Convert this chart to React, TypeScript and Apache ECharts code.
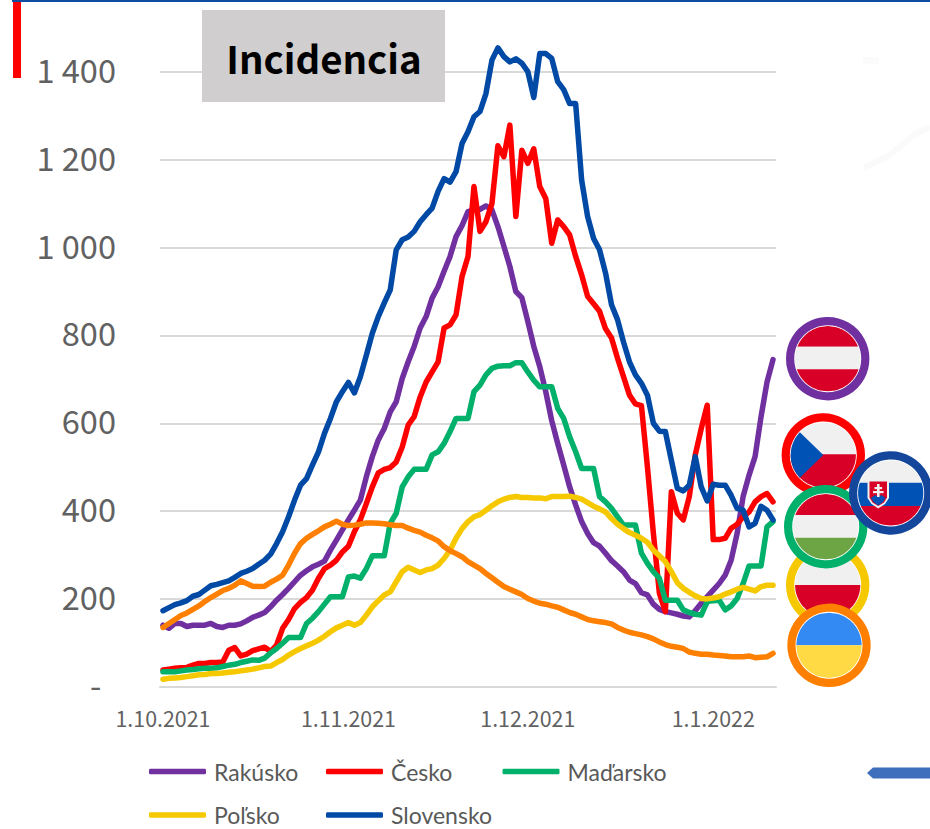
import React, { useEffect, useRef } from "react";
import * as echarts from "echarts";

const START = Date.UTC(2021, 9, 1);
const categories: string[] = [];
for (let i = 0; i < 103; i++) {
  const d = new Date(START + i * 86400000);
  categories.push(`${d.getUTCDate()}.${d.getUTCMonth() + 1}.${d.getUTCFullYear()}`);
}
const shownDates = ["1.10.2021", "1.11.2021", "1.12.2021", "1.1.2022"];

const rakusko = [140,133,144,144,137,140,140,140,144,137,135,140,140,143,150,158,163,169,182,197,210,224,239,254,264,273,279,286,311,334,357,380,402,425,478,524,562,588,626,649,702,740,775,817,843,885,911,946,980,1025,1050,1082,1086,1087,1095,1086,1048,1003,957,900,886,832,775,729,672,606,554,505,455,414,376,349,328,320,304,287,275,262,243,235,214,209,188,176,171,168,165,161,159,173,190,205,220,235,254,288,349,433,482,524,615,694,745];
const cesko = [38,40,42,43,44,49,53,53,55,55,56,83,89,70,74,82,86,90,80,95,133,153,178,192,203,220,247,269,277,288,307,320,353,380,417,455,487,495,499,512,546,596,615,660,694,717,740,817,824,847,934,980,1139,1037,1059,1100,1232,1207,1279,1071,1222,1192,1225,1139,1112,1010,1063,1048,1029,980,938,889,872,855,815,794,748,706,664,644,640,501,349,213,171,444,395,380,433,528,588,641,335,335,338,361,370,387,398,421,433,440,421];
const madarsko = [34,34,34,36,38,39,41,42,42,43,46,49,51,55,58,61,60,65,77,87,99,112,112,112,144,156,171,188,205,205,205,250,252,247,269,298,298,298,372,395,455,478,495,495,495,528,535,554,581,611,611,611,672,687,710,725,730,731,731,738,738,717,698,683,683,683,634,611,569,535,497,497,497,433,421,406,387,368,368,368,304,281,262,247,197,197,197,175,169,165,163,194,196,197,175,184,201,235,275,275,275,364,376];
const polsko = [17,19,20,21,23,25,27,28,30,30,31,33,34,36,38,40,43,46,47,55,62,72,80,87,93,99,106,115,125,134,140,146,140,146,163,182,196,209,216,239,262,272,266,260,266,269,277,292,311,338,360,376,387,392,402,412,421,427,431,433,431,431,430,430,428,433,433,433,434,431,427,419,411,405,398,383,370,360,351,345,338,329,311,298,285,262,237,224,215,207,201,200,202,205,211,216,222,226,222,218,228,231,231];
const slovensko = [173,180,187,191,196,206,210,220,230,233,237,241,249,258,263,269,279,288,302,326,353,387,425,459,474,505,535,577,611,649,672,693,669,706,755,805,843,874,904,995,1018,1024,1037,1059,1075,1090,1128,1157,1149,1173,1237,1264,1298,1310,1351,1427,1455,1435,1423,1430,1420,1401,1342,1442,1442,1431,1378,1360,1328,1328,1154,1071,1021,995,942,870,836,785,740,710,691,664,600,582,581,516,452,446,459,524,455,423,461,459,459,436,406,402,364,372,411,402,380];
const ukrajina = [135,144,153,162,168,176,184,194,203,211,219,224,231,241,235,229,228,229,238,245,254,277,304,326,338,347,355,364,370,377,370,367,368,370,373,373,372,371,369,367,367,361,356,352,345,339,332,319,310,303,296,285,277,269,258,248,238,228,222,216,210,201,195,190,188,184,181,175,169,165,159,153,150,148,146,143,135,129,124,121,118,114,109,102,96,92,90,87,79,76,74,74,72,71,70,68,68,68,70,66,67,68,76];

const FONT = '"Noto Sans CJK JP", "Noto Sans", sans-serif';
const LEGEND_FONT = 'Lato, "Noto Sans", sans-serif';
const GREY = "#616161";
const PURPLE = "#7030a0";
const RED = "#ff0000";
const GREEN = "#00b06b";
const YELLOW = "#f5c800";
const BLUE = "#0049a5";
const ORANGE = "#ff8000";

const band = (cx: number, cy: number, r: number, y0: number, y1: number, fill: string) => {
  const points: number[][] = [];
  const a = Math.max(y0, cy - r);
  const b = Math.min(y1, cy + r);
  const half = (y: number) => Math.sqrt(Math.max(0, r * r - (y - cy) * (y - cy)));
  for (let k = 0; k <= 24; k++) {
    const y = a + ((b - a) * k) / 24;
    points.push([cx - half(y), y]);
  }
  for (let k = 24; k >= 0; k--) {
    const y = a + ((b - a) * k) / 24;
    points.push([cx + half(y), y]);
  }
  return { type: "polygon", z: 10, shape: { points }, style: { fill } };
};

const ring = (cx: number, cy: number, color: string) => ({
  type: "circle",
  z: 10,
  shape: { cx, cy, r: 37.6 },
  style: { fill: "#ffffff", stroke: color, lineWidth: 8.2 },
});

const FLAG_R = 32.6;
const flagOf = (cx: number, cy: number, color: string, bands: [number, number, string][]) => [
  ring(cx, cy, color),
  ...bands.map(([a, b, f]) => band(cx, cy, FLAG_R, a, b, f)),
];

const wedge = (cx: number, cy: number, r: number, fill: string) => {
  const points: number[][] = [[cx, cy]];
  for (let k = 0; k <= 20; k++) {
    const ang = ((136 + (88 * k) / 20) * Math.PI) / 180;
    points.push([cx + r * Math.cos(ang), cy + r * Math.sin(ang)]);
  }
  return { type: "polygon", z: 10, shape: { points }, style: { fill } };
};

const FR = "#d80027";
const FW = "#f0f0f0";

const flags: any[] = [
  ...flagOf(827.7, 358.7, PURPLE, [[300, 346.7, FR], [346.7, 369.3, FW], [369.3, 420, FR]]),
  ...flagOf(823.3, 455, RED, [[400, 454.3, FW], [454.3, 500, FR]]),
  wedge(823.3, 455, FLAG_R, "#0052b4"),
  ...flagOf(827.7, 585, YELLOW, [[540, 585, FW], [585, 640, FR]]),
  ...flagOf(825.7, 526.7, GREEN, [[480, 515, FR], [515, 537.7, FW], [537.7, 570, "#6da544"]]),
  ...flagOf(829, 645.3, ORANGE, [[600, 645.3, "#338af3"], [645.3, 690, "#ffda44"]]),
  ...flagOf(890.7, 493, "#14479b", [[450, 482.7, FW], [482.7, 506, "#0052b4"], [506, 540, FR]]),
  {
    type: "polygon", z: 10,
    shape: { points: [[867.5, 480], [889, 480], [889, 498], [885, 504], [878.2, 508.5], [871.5, 504], [867.5, 498]] },
    style: { fill: "#f0f0f0" },
  },
  {
    type: "polygon", z: 10,
    shape: { points: [[869.5, 481.5], [887, 481.5], [887, 497.5], [884, 502.5], [878.2, 506], [872.5, 502.5], [869.5, 497.5]] },
    style: { fill: FR },
  },
  {
    type: "polygon", z: 10,
    shape: { points: [[871, 498], [875, 495], [878.2, 497], [881.5, 495], [885.5, 498], [883, 502], [878.2, 505.5], [873.5, 502]] },
    style: { fill: "#0052b4" },
  },
  { type: "rect", z: 10, shape: { x: 877, y: 484, width: 2.6, height: 13 }, style: { fill: FW } },
  { type: "rect", z: 10, shape: { x: 874.5, y: 487, width: 7.6, height: 2.2 }, style: { fill: FW } },
  { type: "rect", z: 10, shape: { x: 873, y: 491, width: 10.6, height: 2.2 }, style: { fill: FW } },
];

const legendItem = (name: string, left: number, top: number) => ({
  data: [name],
  left,
  top,
  orient: "horizontal",
  padding: 0,
  icon: "roundRect",
  itemWidth: 57,
  itemHeight: 5.5,
  itemGap: 0,
  selectedMode: false,
  textStyle: { color: "#595959", fontSize: 23, lineHeight: 20, fontFamily: LEGEND_FONT, padding: [0, 0, 0, 3] },
});

const line = (name: string, data: number[], color: string) => ({
  name,
  type: "line",
  data,
  showSymbol: false,
  symbol: "none",
  clip: false,
  smooth: false,
  lineStyle: { color, width: 5.5, cap: "round", join: "round" },
  itemStyle: { color },
  emphasis: { disabled: true },
});

export default function App() {
  const ref = useRef<HTMLDivElement>(null);
  useEffect(() => {
    document.body.style.margin = "0";
    const chart = echarts.init(ref.current!, undefined, { renderer: "svg" });
    chart.setOption({
      animation: false,
      backgroundColor: "#ffffff",
      grid: { left: 160, top: 72, width: 616, height: 614.7, containLabel: false },
      xAxis: {
        type: "category",
        data: categories,
        boundaryGap: true,
        axisLine: { show: true, lineStyle: { color: "#d9d9d9", width: 2 } },
        axisTick: { show: false },
        splitLine: { show: false },
        axisLabel: {
          color: GREY,
          fontSize: 21.4,
          fontFamily: FONT,
          margin: 20,
          hideOverlap: false,
          interval: (_: number, v: string) => shownDates.includes(v),
        },
      },
      yAxis: {
        type: "value",
        min: 0,
        max: 1400,
        interval: 200,
        axisLine: { show: false },
        axisTick: { show: false },
        splitLine: { show: true, lineStyle: { color: "#d9d9d9", width: 2 } },
        axisLabel: {
          margin: 44,
          formatter: (v: number) => {
            if (v === 0) return "{a|-\u00a0\u00a0}";
            return `{a|${v >= 1000 ? `${Math.floor(v / 1000)} ${String(v % 1000).padStart(3, "0")}` : String(v)}}`;
          },
          rich: { a: { color: GREY, fontSize: 32.6, fontFamily: FONT, padding: [0, 0, 7, 0] } },
        },
      },
      legend: [
        legendItem("Rakúsko", 149, 760),
        legendItem("Česko", 326, 760),
        legendItem("Maďarsko", 502.5, 760),
        legendItem("Poľsko", 149, 803.5),
        legendItem("Slovensko", 326, 803.5),
      ],
      series: [
        line("Rakúsko", rakusko, PURPLE),
        line("Česko", cesko, RED),
        line("Maďarsko", madarsko, GREEN),
        line("Poľsko", polsko, YELLOW),
        line("Slovensko", slovensko, BLUE),
        line("Ukrajina", ukrajina, ORANGE),
      ],
      graphic: [
        { type: "rect", z: 10, shape: { x: 12, y: 0, width: 918, height: 2 }, style: { fill: "#0f4c9f" } },
        { type: "rect", z: 10, shape: { x: 13, y: 2, width: 8, height: 76 }, style: { fill: "#ff0000" } },
        { type: "rect", z: 10, shape: { x: 202, y: 10, width: 243, height: 92 }, style: { fill: "#d0cece" } },
        {
          type: "text", z: 11, x: 324, y: 57,
          style: { text: "Incidencia", fill: "#000000", fontSize: 38.4, fontWeight: "bold", fontFamily: FONT, align: "center", verticalAlign: "middle" },
        },
        {
          type: "polyline", z: 10,
          shape: { points: [[864, 168], [890, 155], [915, 134], [930, 127]] },
          style: { stroke: "#fafafa", lineWidth: 6, fill: "none" },
        },
        { type: "rect", z: 10, shape: { x: 863, y: 57, width: 16, height: 7 }, style: { fill: "#fbfbfb" } },
        {
          type: "polygon", z: 10,
          shape: { points: [[867, 773], [873, 767.5], [930, 767.5], [930, 778.5], [873, 778.5]] },
          style: { fill: "#3e6fbd" },
        },
        ...flags,
      ],
    });
    return () => chart.dispose();
  }, []);
  return <div ref={ref} style={{ position: "absolute", left: 0, top: 0, width: 930, height: 829 }} />;
}
